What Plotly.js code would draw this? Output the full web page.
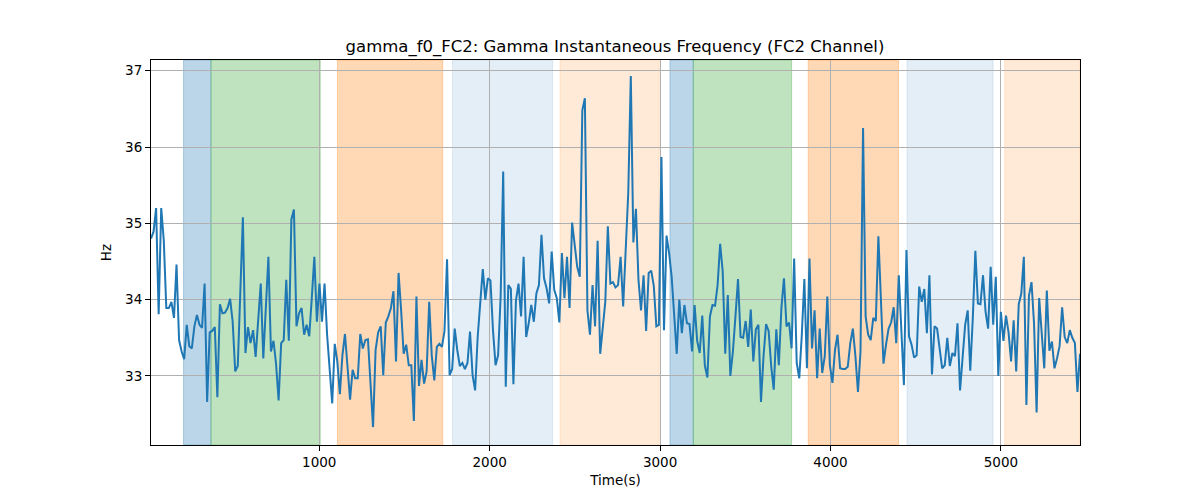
<!DOCTYPE html>
<html>
<head>
<meta charset="utf-8">
<script src="https://cdn.plot.ly/plotly-3.0.1.min.js"></script>
<style>
  html, body { margin: 0; padding: 0; background: #fff; }
  #chart { width: 1200px; height: 500px; }
</style>
</head>
<body>
<div id="chart"></div>
<script>
// sampled gamma f0 (Hz), regular sampling from tStart to tEnd
var tStart = 13;
var tEnd = 5464;
var freqHz = [
  34.80, 34.89, 35.20, 33.81, 35.20, 34.78, 33.89, 33.89, 33.97, 33.76,
  34.46, 33.47, 33.32, 33.22, 33.67, 33.39, 33.36, 33.65, 33.80, 33.67,
  33.63, 34.21, 32.66, 33.57, 33.59, 33.64, 32.72, 33.94, 33.82, 33.83,
  33.89, 34.01, 33.71, 33.06, 33.13, 34.02, 35.08, 33.30, 33.64, 33.43,
  33.60, 33.25, 33.76, 34.21, 33.23, 33.95, 34.56, 33.32, 33.46, 33.16,
  32.68, 33.43, 33.47, 34.26, 33.46, 35.05, 35.18, 33.65, 33.82, 33.89,
  33.54, 33.67, 33.52, 34.02, 34.56, 33.71, 34.21, 33.71, 34.21, 33.54,
  33.12, 32.64, 33.42, 33.19, 32.76, 33.27, 33.55, 33.17, 32.69, 33.08,
  32.97, 32.97, 33.55, 33.36, 33.47, 33.48, 32.86, 32.33, 33.34, 33.57,
  33.65,
  33.01, 33.70, 33.78, 33.89, 34.11, 33.19, 34.35, 33.86, 33.29, 33.41,
  33.14, 33.14, 32.41, 34.04, 32.87, 33.21, 32.90, 33.06, 33.97, 33.27,
  32.94, 33.38, 33.42, 33.38, 33.59, 34.53, 33.01, 33.09, 33.62, 33.34,
  33.13, 33.17, 33.09, 33.17, 33.58, 33.01, 32.81, 33.51, 34.02, 34.40,
  34.00, 34.28, 34.25, 33.60, 33.14, 33.27, 34.04, 35.68, 32.86, 34.19,
  34.14, 32.89, 33.99, 34.21, 33.78, 34.56, 33.51, 33.69, 33.93, 33.71,
  34.08, 34.19, 34.85, 34.28, 34.15, 33.95, 34.63, 34.13, 34.02, 33.70,
  34.61, 34.02, 34.56, 33.89, 35.01, 34.74, 34.43, 34.30, 36.48, 36.64,
  33.86, 33.54, 34.19, 33.65, 34.77, 33.29, 33.62, 33.97, 34.96, 34.21,
  34.23, 34.16, 34.19, 34.56, 33.91, 34.70, 35.40, 36.93, 34.75, 35.19,
  34.26, 33.86, 34.32, 33.59, 34.35, 34.38, 34.18, 33.65, 33.67, 35.87,
  33.60, 34.84, 34.61, 34.30, 33.82, 33.29, 34.00, 33.56, 33.93, 33.69,
  33.68, 33.32, 33.93, 33.46, 33.30, 33.79, 33.14, 32.98, 33.78, 33.93,
  33.92, 34.19, 34.73, 34.37, 33.29, 34.06, 33.00, 33.32, 33.78, 34.27,
  33.51, 33.50, 33.72, 33.38, 33.87, 33.19, 33.61, 33.67, 32.66, 33.26,
  33.68, 33.59, 33.13, 32.82, 33.61, 33.14, 33.89, 34.28, 33.65, 33.70,
  33.36, 34.54, 33.17, 32.97, 33.54, 34.27, 33.10, 34.54, 33.36, 33.86,
  32.97, 33.62, 33.04, 33.26, 34.04, 33.14, 32.91, 33.34, 33.54, 33.10,
  33.09, 33.09, 33.12, 33.43, 33.62, 33.26, 32.79, 33.32, 36.25, 33.78,
  33.54, 33.47, 33.76, 33.72, 34.83, 34.04, 33.16, 33.41, 33.62, 33.70,
  33.90, 33.43, 34.32, 33.60, 32.88, 34.65, 33.52, 33.41, 33.24, 33.27,
  34.17, 33.97, 34.14, 33.56, 34.32, 33.02, 33.65, 33.62, 33.38, 33.10,
  33.14, 33.50, 33.13, 33.30, 33.26, 33.69, 32.81, 33.30, 33.67, 33.86,
  33.07, 33.76, 34.64, 33.95, 33.94, 34.32, 33.84, 33.62, 34.43, 33.67,
  34.30, 33.00, 33.84, 33.46, 33.79, 33.57, 33.19, 33.73, 33.06, 33.94,
  34.08, 34.56, 32.62, 34.05, 34.23, 33.68, 32.52, 34.02, 33.58, 33.10,
  34.12, 33.33, 33.45, 33.10, 33.23, 33.39, 33.90, 33.51, 33.43, 33.60,
  33.50, 33.43, 32.79, 33.29
];

// shaded intervals (s) and their kind
var spanStart = [204, 365, 1107, 1782, 2413, 3058, 3195, 3869, 4449, 5022];
var spanEnd   = [365, 1006, 1725, 2370, 2995, 3195, 3772, 4399, 4954, 5464];
var spanKind  = ['blue', 'green', 'orange', 'ltblue', 'ltorange',
                 'blue', 'green', 'orange', 'ltblue', 'ltorange'];

var kindColor = {
  blue: 'rgba(31,119,180,0.3)',
  green: 'rgba(44,160,44,0.3)',
  orange: 'rgba(255,127,14,0.3)',
  ltblue: 'rgba(31,119,180,0.12)',
  ltorange: 'rgba(255,127,14,0.16)'
};

var dt = (tEnd - tStart) / (freqHz.length - 1);
var times = freqHz.map(function(v, i) { return tStart + i * dt; });

var shapes = [];
for (var i = 0; i < spanStart.length; i++) {
  shapes.push({
    type: 'rect', xref: 'x', yref: 'paper',
    x0: spanStart[i], x1: spanEnd[i], y0: 0, y1: 1,
    fillcolor: kindColor[spanKind[i]],
    line: {width: 1, color: kindColor[spanKind[i]]},
    layer: 'below'
  });
}

var trace = {
  x: times,
  y: freqHz,
  type: 'scatter',
  mode: 'lines',
  line: {color: '#1f77b4', width: 2},
  hoverinfo: 'x+y'
};

var axisCommon = {
  showline: true, mirror: true, linecolor: '#000', linewidth: 1,
  ticks: 'outside', ticklen: 5, tickwidth: 1, tickcolor: '#000',
  showgrid: true, gridcolor: '#b0b0b0', gridwidth: 1,
  zeroline: false,
  tickfont: {family: 'DejaVu Sans', size: 13.5, color: '#000'}
};

var layout = {
  width: 1200, height: 500,
  margin: {l: 151, r: 120, t: 60, b: 55},
  paper_bgcolor: '#fff', plot_bgcolor: '#fff',
  showlegend: false,
  font: {family: 'DejaVu Sans', color: '#000'},
  title: {
    text: 'gamma_f0_FC2: Gamma Instantaneous Frequency (FC2 Channel)',
    font: {family: 'DejaVu Sans', size: 16.5, color: '#000'},
    x: 0.5125, xanchor: 'center', y: 0.908, yanchor: 'middle'
  },
  xaxis: Object.assign({}, axisCommon, {
    range: [tStart, tEnd],
    tickvals: [1000, 2000, 3000, 4000, 5000],
    title: {text: 'Time(s)', font: {family: 'DejaVu Sans', size: 13.5}, standoff: 6}
  }),
  yaxis: Object.assign({}, axisCommon, {
    range: [32.095, 37.14],
    tickvals: [33, 34, 35, 36, 37],
    title: {text: 'Hz', font: {family: 'DejaVu Sans', size: 13.5}, standoff: 10}
  }),
  shapes: shapes
};

Plotly.newPlot('chart', [trace], layout, {displayModeBar: false, staticPlot: true});
</script>
</body>
</html>
